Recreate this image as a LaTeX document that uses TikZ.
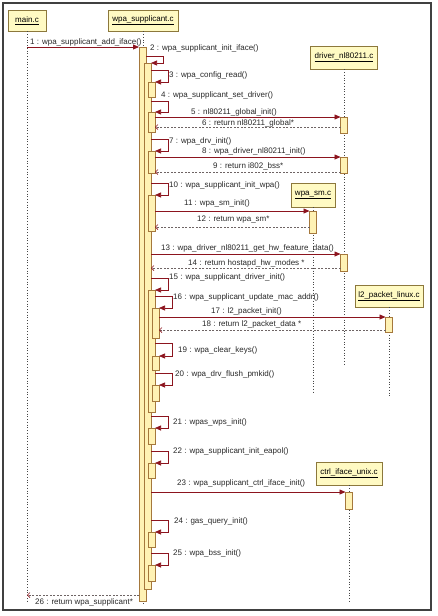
\documentclass[tikz,border=0pt]{standalone}
\usepackage{fontspec}
\setmainfont{Liberation Sans}
\usetikzlibrary{arrows.meta}
\definecolor{callred}{RGB}{140,20,30}
\definecolor{retgray}{RGB}{110,100,100}
\definecolor{barfill}{RGB}{255,242,180}
\definecolor{bardraw}{RGB}{165,120,60}
\definecolor{headfill}{RGB}{255,250,195}
\definecolor{headdraw}{RGB}{140,120,60}
\definecolor{lifecol}{RGB}{70,70,70}
\definecolor{labelcol}{RGB}{40,40,40}
\begin{document}
\begin{tikzpicture}[x=1pt,y=1pt,yscale=-1,
  font=\fontsize{8}{9.6}\selectfont,
  headbox/.style={draw=headdraw, fill=headfill, line width=0.7pt, inner sep=0pt},
  actbar/.style={draw=bardraw, fill=barfill, line width=0.7pt, minimum width=7, inner sep=0pt, outer sep=0pt},
  lifeline/.style={draw=lifecol, dotted, line width=0.75pt},
  callmsg/.style={draw=callred, line width=0.75pt, -{Triangle[length=6pt,width=5pt]}},
  selfmsg/.style={callmsg},
  retmsg/.style={draw=retgray, dash pattern=on 2pt off 1.5pt, line width=0.7pt, -{Straight Barb[length=2.5pt,width=5pt,color=callred]}},
  msglabel/.style={anchor=west, inner sep=0pt, text=labelcol}]
\useasboundingbox (0,0) rectangle (437,616);

%Shape: Rectangle [frame]
\draw [draw=black!75, line width=1.1pt]  (3,3) rectangle (431,610) ;

%Lifeline heads
\node [headbox, minimum width=38, minimum height=21] (hMain) at (27,20.5) {\raisebox{2pt}{\underline{main.c}}};
\node [headbox, minimum width=70, minimum height=21] (hWpa) at (143,20.5) {\raisebox{2pt}{\underline{wpa\_supplicant.c}}};
\node [headbox, minimum width=67, minimum height=23] (hDrv) at (344,57.5) {\raisebox{2pt}{\underline{driver\_nl80211.c}}};
\node [headbox, minimum width=44, minimum height=24] (hSm) at (313,195) {\raisebox{2pt}{\underline{wpa\_sm.c}}};
\node [headbox, minimum width=68, minimum height=22] (hL2) at (389,296) {\raisebox{2pt}{\underline{l2\_packet\_linux.c}}};
\node [headbox, minimum width=66, minimum height=23] (hCtrl) at (349,473.5) {\raisebox{2pt}{\underline{ctrl\_iface\_unix.c}}};

%Lifeline ends
\coordinate (eMain) at (27,603);
\coordinate (eWpa) at (143,605);
\coordinate (eDrv) at (344,365);
\coordinate (eSm) at (313,392);
\coordinate (eL2) at (389,397);
\coordinate (eCtrl) at (349,603);

%Dotted Lines
\draw [lifeline]  (hMain.south) -- (eMain) ;
\draw [lifeline]  (hWpa.south) -- (eWpa) ;
\draw [lifeline]  (hDrv.south) -- (eDrv) ;
\draw [lifeline]  (hSm.south) -- (eSm) ;
\draw [lifeline]  (hL2.south) -- (eL2) ;
\draw [lifeline]  (hCtrl.south) -- (eCtrl) ;

%Activation bars: wpa_supplicant.c
\node [actbar, minimum height=554] (a1) at (142.5,324) {};
\node [actbar, minimum height=526] (a2) at (147.5,326) {};
\node [actbar, minimum height=15] (a3) at (151.5,89.5) {};
\node [actbar, minimum height=20] (a4) at (151.5,122) {};
\node [actbar, minimum height=22] (a7) at (151.5,162) {};
\node [actbar, minimum height=36] (a10) at (151.5,213) {};
\node [actbar, minimum height=122] (a15) at (151.5,351) {};
\node [actbar, minimum height=30] (a16) at (155.5,323) {};
\node [actbar, minimum height=14] (a19) at (155.5,363) {};
\node [actbar, minimum height=16] (a20) at (155.5,393) {};
\node [actbar, minimum height=16] (a21) at (151.5,436) {};
\node [actbar, minimum height=15] (a22) at (151.5,470.5) {};
\node [actbar, minimum height=15] (a24) at (151.5,539.5) {};
\node [actbar, minimum height=16] (a25) at (151.5,573) {};

%Activation bars: callees
\node [actbar, minimum height=16] (d1) at (344,125) {};
\node [actbar, minimum height=16] (d2) at (344,165) {};
\node [actbar, minimum height=17] (d3) at (344,262.5) {};
\node [actbar, minimum height=22] (s1) at (313,222) {};
\node [actbar, minimum height=15] (l1) at (389,324.5) {};
\node [actbar, minimum height=17] (c1) at (349,500.5) {};

%Self message rows
\coordinate (s2) at (0,56);
\coordinate (s3) at (0,70);
\coordinate (s4) at (0,101);
\coordinate (s7) at (0,139);
\coordinate (s10) at (0,183);
\coordinate (s15) at (0,278);
\coordinate (s16) at (0,296);
\coordinate (s19) at (0,343);
\coordinate (s20) at (0,373);
\coordinate (s21) at (0,416);
\coordinate (s22) at (0,451);
\coordinate (s24) at (0,520);
\coordinate (s25) at (0,553);

%Return message rows
\coordinate (r6) at (0,127);
\coordinate (r9) at (0,172);
\coordinate (r12) at (0,227);
\coordinate (r14) at (0,268);
\coordinate (r18) at (0,330);
\coordinate (r26) at (0,595);

%Calls
\draw [callmsg]  (hMain.south |- a1.north) -- (a1.north west) ;
\draw [callmsg]  (a4.east |- d1.north) -- (d1.north west) ;
\draw [callmsg]  (a7.east |- d2.north) -- (d2.north west) ;
\draw [callmsg]  (a10.east |- s1.north) -- (s1.north west) ;
\draw [callmsg]  (a2.east |- d3.north) -- (d3.north west) ;
\draw [callmsg]  (a16.east |- l1.north) -- (l1.north west) ;
\draw [callmsg]  (a2.east |- c1.north) -- (c1.north west) ;

%Self calls
\draw [selfmsg]  (a1.east |- s2) -- ++(17,0) |- (a2.north east) ;
\draw [selfmsg]  (a2.east |- s3) -- ++(17,0) |- (a3.north east) ;
\draw [selfmsg]  (a2.east |- s4) -- ++(17,0) |- (a4.north east) ;
\draw [selfmsg]  (a2.east |- s7) -- ++(17,0) |- (a7.north east) ;
\draw [selfmsg]  (a2.east |- s10) -- ++(17,0) |- (a10.north east) ;
\draw [selfmsg]  (a2.east |- s15) -- ++(17,0) |- (a15.north east) ;
\draw [selfmsg]  (a15.east |- s16) -- ++(17,0) |- (a16.north east) ;
\draw [selfmsg]  (a15.east |- s19) -- ++(17,0) |- (a19.north east) ;
\draw [selfmsg]  (a15.east |- s20) -- ++(17,0) |- (a20.north east) ;
\draw [selfmsg]  (a2.east |- s21) -- ++(17,0) |- (a21.north east) ;
\draw [selfmsg]  (a2.east |- s22) -- ++(17,0) |- (a22.north east) ;
\draw [selfmsg]  (a2.east |- s24) -- ++(17,0) |- (a24.north east) ;
\draw [selfmsg]  (a2.east |- s25) -- ++(17,0) |- (a25.north east) ;

%Returns
\draw [retmsg]  (d1.west |- r6) -- (a4.east |- r6) ;
\draw [retmsg]  (d2.west |- r9) -- (a7.east |- r9) ;
\draw [retmsg]  (s1.west |- r12) -- (a10.east |- r12) ;
\draw [retmsg]  (d3.west |- r14) -- (a2.east |- r14) ;
\draw [retmsg]  (l1.west |- r18) -- (a16.east |- r18) ;
\draw [retmsg]  (a1.west |- r26) -- (hMain.south |- r26) ;

% Text Node
\node [msglabel] (t1) at (30,42) {1 : wpa\_supplicant\_add\_iface()};
\node [msglabel] (t2) at (150,48) {2 : wpa\_supplicant\_init\_iface()};
\node [msglabel] (t3) at (169,75) {3 : wpa\_config\_read()};
\node [msglabel] (t4) at (161,95) {4 : wpa\_supplicant\_set\_driver()};
\node [msglabel] (t5) at (191,112) {5 : nl80211\_global\_init()};
\node [msglabel] (t6) at (202,123) {6 : return nl80211\_global*};
\node [msglabel] (t7) at (169,141) {7 : wpa\_drv\_init()};
\node [msglabel] (t8) at (202,151) {8 : wpa\_driver\_nl80211\_init()};
\node [msglabel] (t9) at (213,166) {9 : return i802\_bss*};
\node [msglabel] (t10) at (169,185) {10 : wpa\_supplicant\_init\_wpa()};
\node [msglabel] (t11) at (184,203) {11 : wpa\_sm\_init()};
\node [msglabel] (t12) at (197,220) {12 : return wpa\_sm*};
\node [msglabel] (t13) at (161,248) {13 : wpa\_driver\_nl80211\_get\_hw\_feature\_data()};
\node [msglabel] (t14) at (188,263) {14 : return hostapd\_hw\_modes *};
\node [msglabel] (t15) at (169,277) {15 : wpa\_supplicant\_driver\_init()};
\node [msglabel] (t16) at (173,297) {16 : wpa\_supplicant\_update\_mac\_addr()};
\node [msglabel] (t17) at (211,311) {17 : l2\_packet\_init()};
\node [msglabel] (t18) at (202,324) {18 : return l2\_packet\_data *};
\node [msglabel] (t19) at (178,350) {19 : wpa\_clear\_keys()};
\node [msglabel] (t20) at (175,374) {20 : wpa\_drv\_flush\_pmkid()};
\node [msglabel] (t21) at (173,422) {21 : wpas\_wps\_init()};
\node [msglabel] (t22) at (173,451) {22 : wpa\_supplicant\_init\_eapol()};
\node [msglabel] (t23) at (177,483) {23 : wpa\_supplicant\_ctrl\_iface\_init()};
\node [msglabel] (t24) at (174,521) {24 : gas\_query\_init()};
\node [msglabel] (t25) at (173,553) {25 : wpa\_bss\_init()};
\node [msglabel] (t26) at (35,602) {26 : return wpa\_supplicant*};

\end{tikzpicture}
\end{document}
